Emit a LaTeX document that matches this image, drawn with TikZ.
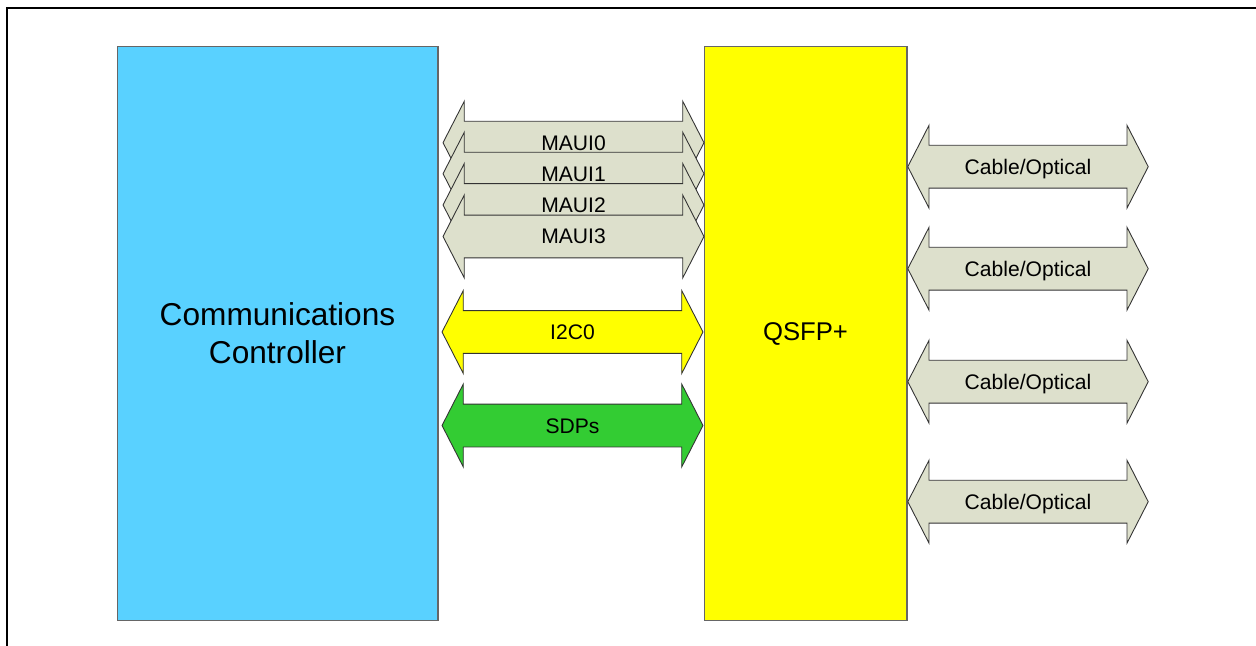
\documentclass[tikz,border=0pt]{standalone}
\usepackage{fontspec}
\setmainfont{Liberation Sans}
\usetikzlibrary{shapes.arrows}

\definecolor{ccblue}{RGB}{89,209,255}
\definecolor{busgray}{RGB}{221,224,204}
\definecolor{qsfpyellow}{RGB}{255,255,0}
\definecolor{sdpgreen}{RGB}{51,204,51}

\tikzset{
    block/.style={draw=black!60, line width=0.6pt, inner sep=0pt, align=center},
    bus/.style={double arrow, draw=black!80, line width=0.5pt, fill=busgray,
        double arrow tip angle=125.7, double arrow head extend=0.4cm,
        inner xsep=0pt, inner ysep=0.27cm, text height=0.3cm, text depth=0cm,
        font=\fontsize{12}{14}\selectfont, minimum height=5.22cm},
    cable/.style={bus, minimum height=4.81cm}
}

\begin{document}
\begin{tikzpicture}[x=0.02cm, y=-0.02cm]
        \useasboundingbox (0,0) rectangle (1256,645);
        \begin{scope}
            \draw [line width=1.1pt] (7,700) -- (7,8) -- (1300,8);
            \node [block, fill=ccblue, minimum width=6.42cm, minimum height=11.5cm,
                font=\fontsize{18}{21.6}\selectfont] (cc) at (277.5,333.5)
                {Communications\\Controller};
            \node [block, fill=qsfpyellow, minimum width=4.06cm, minimum height=11.5cm,
                font=\fontsize{14.6}{17}\selectfont] (qsfp) at (805.5,333.5) {QSFP+};
            \node [bus] (maui0) at (573.5,142.7) {MAUI0};
            \node [bus] (maui1) at (573.5,173.7) {MAUI1};
            \node [bus] (maui2) at (573.5,205) {MAUI2};
            \node [bus] (maui3) at (573.5,236.5) {MAUI3};
            \node [bus, fill=qsfpyellow] (i2c) at (572.5,332) {I2C0};
            \node [bus, fill=sdpgreen] (sdp) at (572.5,425.5) {SDPs};
            \node [cable] (cable0) at (1028,166.7) {Cable/Optical};
            \node [cable] (cable1) at (1028,268.7) {Cable/Optical};
            \node [cable] (cable2) at (1028,381.7) {Cable/Optical};
            \node [cable] (cable3) at (1028,501.7) {Cable/Optical};
        \end{scope}
    \end{tikzpicture}
\end{document}
